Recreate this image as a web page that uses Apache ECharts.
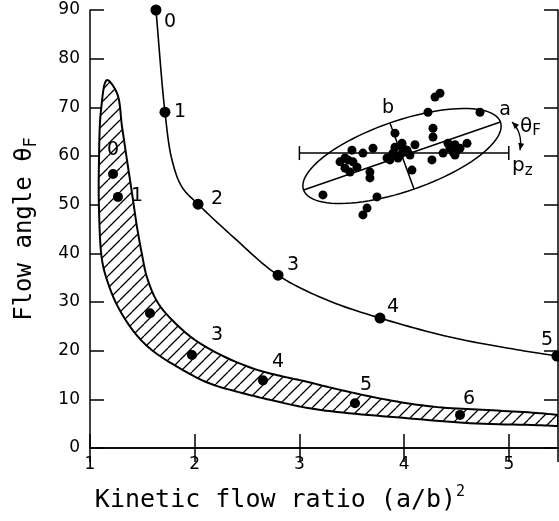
<!DOCTYPE html>
<html><head><meta charset="utf-8">
<script src="https://cdn.jsdelivr.net/npm/echarts@6/dist/echarts.min.js"></script>
<style>html,body{margin:0;padding:0;background:#fff}#c{width:559px;height:521px}</style>
</head><body><div id="c"></div>
<script>
// ---- Data ----
// upper curve (traced)
const upperCurveX = [1.630, 1.716, 1.783, 1.879, 2.032, 2.366, 2.796, 3.264, 3.770, 4.438, 5.078, 5.460];
const upperCurveY = [90.0, 69.0, 59.2, 53.6, 50.1, 43.4, 35.5, 30.4, 26.7, 22.8, 20.2, 18.9];
// upper labelled points
const upperPtX = [1.630, 1.716, 2.032, 2.796, 3.770, 5.460];
const upperPtY = [90.0, 69.0, 50.1, 35.5, 26.7, 18.9];
const upperPtLabels = ['0', '1', '2', '3', '4', '5'];
// band labelled points
const bandPtX = [1.220, 1.267, 1.573, 1.974, 2.652, 3.531, 4.534];
const bandPtY = [56.3, 51.6, 27.7, 19.1, 13.9, 9.2, 6.8];
const bandPtLabels = ['0', '1', '', '3', '4', '5', '6'];
// hatched band: tip, outer (upper/right) edge after tip, inner (lower/left) edge after tip
const bandTip = [1.162, 75.6];
const bandOuterX = [1.258, 1.306, 1.353, 1.401, 1.449, 1.497, 1.544, 1.649, 1.812, 2.003, 2.289, 2.605, 2.862, 3.034, 3.359, 3.837, 4.314, 4.792, 5.269, 5.470];
const bandOuterY = [72.9, 66.0, 59.2, 52.4, 45.4, 39.7, 35.1, 29.8, 25.7, 22.2, 18.7, 16.0, 14.6, 13.8, 12.1, 9.9, 8.4, 7.8, 7.2, 6.8];
const bandInnerX = [1.105, 1.086, 1.086, 1.115, 1.172, 1.267, 1.430, 1.592, 1.840, 2.127, 2.452, 2.719, 3.034, 3.359, 3.989, 4.629, 5.269, 5.470];
const bandInnerY = [69.4, 59.2, 48.9, 38.6, 33.9, 29.0, 23.6, 20.1, 16.6, 13.4, 11.3, 9.9, 8.4, 7.4, 6.2, 5.1, 4.7, 4.5];
// inset scatter cluster
const clusterX = [4.343, 4.295, 4.228, 4.725, 4.276, 4.276, 4.104, 4.028, 4.419, 4.486, 4.601, 4.467, 4.372, 4.486, 4.438, 4.266, 4.075, 3.913, 3.703, 3.607, 3.502, 3.464, 3.388, 3.512, 3.436, 3.550, 3.483, 3.674, 3.674, 3.837, 3.894, 3.913, 3.980, 4.009, 3.942, 3.225, 3.741, 3.646, 3.607, 4.056, 3.865, 3.990, 4.505, 3.436, 3.961, 4.534];
const clusterY = [72.9, 72.1, 69.0, 69.0, 65.7, 63.9, 62.3, 61.2, 62.6, 62.3, 62.6, 60.8, 60.6, 60.2, 61.6, 59.2, 57.1, 64.7, 61.6, 60.6, 61.2, 59.2, 58.8, 58.8, 57.5, 57.7, 56.7, 56.7, 55.5, 59.6, 60.6, 61.8, 62.6, 60.8, 59.6, 52.0, 51.6, 49.3, 47.9, 60.2, 59.2, 61.6, 61.2, 59.6, 60.2, 61.6];
// inset ellipse (center, end of semi-major, end of semi-minor)
const ellipseCenter = [3.98, 60.0];
const ellipseMajorEnd = [4.92, 67.0];
const ellipseMinorEnd = [3.865, 66.8];
// p_z reference line
const pzLineX = [3.0, 5.0];
const pzLineY = 60.6;
// inset annotations
const insetTextX = [4.964, 3.846, 5.107, 5.031];
const insetTextY = [69.4, 69.9, 66.0, 57.9];
const insetTexts = ['a', 'b', 'θ{sub|F}', 'p{sub|z}'];
const arrowStart = [5.031, 67.0], arrowCtrl = [5.136, 64.7], arrowEnd = [5.107, 61.2];

// ---- styles ----
const upperLabelOffsets = [[14, 12], [15, 0], [19, -5], [15, -10], [13, -11], [-10, -16]];
const bandLabelOffsets = [[0, -24], [19, -1], [0, 0], [25, -20], [15, -18], [11, -18], [9, -16]];
const tickFont = 'DejaVu Sans';
const nameFont = 'DejaVu Sans Mono';

function makeHatch() {
  const s = 12, c = document.createElement('canvas');
  c.width = s; c.height = s;
  const g = c.getContext('2d');
  g.fillStyle = '#fff'; g.fillRect(0, 0, s, s);
  g.strokeStyle = '#000'; g.lineWidth = 1.3;
  g.beginPath();
  for (const k of [-s, 0, s]) { g.moveTo(k, s); g.lineTo(k + s, 0); }
  g.stroke();
  return c;
}
const hatch = makeHatch();

// centripetal Catmull-Rom through pixel points (rendering of a traced curve)
function spline(P, n) {
  const L = P.length, out = [];
  const ext = [[2 * P[0][0] - P[1][0], 2 * P[0][1] - P[1][1]]].concat(P,
    [[2 * P[L - 1][0] - P[L - 2][0], 2 * P[L - 1][1] - P[L - 2][1]]]);
  const d = (a, b) => Math.max(Math.pow(Math.hypot(b[0] - a[0], b[1] - a[1]), 0.5), 1e-4);
  for (let i = 1; i < ext.length - 2; i++) {
    const p0 = ext[i - 1], p1 = ext[i], p2 = ext[i + 1], p3 = ext[i + 2];
    const t0 = 0, t1 = d(p0, p1), t2 = t1 + d(p1, p2), t3 = t2 + d(p2, p3);
    for (let k = 0; k < n; k++) {
      const t = t1 + (t2 - t1) * k / n;
      const lp = (a, b, ta, tb) => [((tb - t) * a[0] + (t - ta) * b[0]) / (tb - ta), ((tb - t) * a[1] + (t - ta) * b[1]) / (tb - ta)];
      const A1 = lp(p0, p1, t0, t1), A2 = lp(p1, p2, t1, t2), A3 = lp(p2, p3, t2, t3);
      const B1 = lp(A1, A2, t0, t2), B2 = lp(A2, A3, t1, t3);
      out.push(lp(B1, B2, t1, t2));
    }
  }
  out.push(P[L - 1]);
  return out;
}

const axisCommon = {
  axisLine: { lineStyle: { color: '#000', width: 1.5 } },
  axisTick: { inside: true, length: 14, lineStyle: { color: '#000', width: 1.5 } },
  splitLine: { show: false }
};

const chart = echarts.init(document.getElementById('c'), null, { renderer: 'canvas' });
const option = {
  animation: false,
  backgroundColor: '#fff',
  grid: { left: 90, top: 10, width: 468, height: 438 },
  xAxis: [
    Object.assign({
      type: 'value', min: 1, max: 5.47, interval: 1, position: 'bottom',
      axisLabel: { color: '#000', fontSize: 17, fontFamily: tickFont, margin: 8, showMaxLabel: false },
      name: 'Kinetic flow ratio (a/b){sup|2}', nameLocation: 'middle', nameGap: 37,
      nameTextStyle: {
        color: '#000', fontFamily: nameFont, fontSize: 25, lineHeight: 30, padding: [0, 88, 0, 0],
        rich: { sup: { fontFamily: nameFont, fontSize: 15, lineHeight: 15, verticalAlign: 'top' } }
      }
    }, axisCommon),
    Object.assign({
      type: 'value', min: 1, max: 5.47, interval: 1, position: 'top',
      axisLabel: { show: false }
    }, axisCommon)
  ],
  yAxis: [
    Object.assign({
      type: 'value', min: 0, max: 90, interval: 10, position: 'left',
      axisLabel: { color: '#000', fontSize: 17, fontFamily: tickFont, margin: 10 },
      name: 'Flow angle θ{sub|F}', nameLocation: 'middle', nameGap: 50,
      nameTextStyle: {
        color: '#000', fontFamily: nameFont, fontSize: 24, lineHeight: 30,
        rich: { sub: { fontFamily: nameFont, fontSize: 17, lineHeight: 17, verticalAlign: 'bottom' } }
      }
    }, axisCommon),
    Object.assign({
      type: 'value', min: 0, max: 90, interval: 10, position: 'right',
      axisLabel: { show: false }
    }, axisCommon)
  ],
  series: [
    {
      type: 'custom', clip: true, z: 1, silent: true,
      data: [[3, 30]],
      renderItem: function (params, api) {
        const seq = [];
        for (let i = bandInnerX.length - 1; i >= 0; i--) seq.push(api.coord([bandInnerX[i], bandInnerY[i]]));
        seq.push(api.coord(bandTip));
        for (let i = 0; i < bandOuterX.length; i++) seq.push(api.coord([bandOuterX[i], bandOuterY[i]]));
        return {
          type: 'polygon',
          shape: { points: spline(seq, 10) },
          style: { fill: { image: hatch, repeat: 'repeat' }, stroke: '#000', lineWidth: 2 }
        };
      }
    },
    {
      type: 'custom', clip: true, z: 2, silent: true,
      data: [[3, 30]],
      renderItem: function (params, api) {
        const pts = upperCurveX.map((x, i) => api.coord([x, upperCurveY[i]]));
        return { type: 'polyline', shape: { points: spline(pts, 12) }, style: { stroke: '#000', lineWidth: 1.6, fill: null } };
      }
    },
    {
      type: 'scatter', z: 4, symbolSize: 11, itemStyle: { color: '#000', opacity: 1 }, clip: false,
      data: upperPtX.map((x, i) => ({
        value: [x, upperPtY[i]],
        label: { show: true, position: 'inside', offset: upperLabelOffsets[i], formatter: upperPtLabels[i],
          color: '#000', fontSize: 19, fontFamily: tickFont }
      }))
    },
    {
      type: 'scatter', z: 4, symbolSize: 10, itemStyle: { color: '#000', opacity: 1 },
      data: bandPtX.map((x, i) => ({
        value: [x, bandPtY[i]],
        label: { show: bandPtLabels[i] !== '', position: 'inside', offset: bandLabelOffsets[i], formatter: bandPtLabels[i],
          color: '#000', fontSize: 19, fontFamily: tickFont }
      }))
    },
    {
      type: 'custom', z: 3, silent: true, clip: false,
      data: [[4, 60]],
      renderItem: function (params, api) {
        const c = api.coord(ellipseCenter);
        const A = api.coord(ellipseMajorEnd), B = api.coord(ellipseMinorEnd);
        const u = [A[0] - c[0], A[1] - c[1]], v = [B[0] - c[0], B[1] - c[1]];
        const ell = [];
        for (let k = 0; k < 96; k++) {
          const t = k / 96 * Math.PI * 2;
          ell.push([c[0] + u[0] * Math.cos(t) + v[0] * Math.sin(t), c[1] + u[1] * Math.cos(t) + v[1] * Math.sin(t)]);
        }
        const ls = { stroke: '#000', lineWidth: 1.5, fill: null };
        const p1 = api.coord([pzLineX[0], pzLineY]), p2 = api.coord([pzLineX[1], pzLineY]);
        const s0 = api.coord(arrowStart), s1 = api.coord(arrowCtrl), s2 = api.coord(arrowEnd);
        function head(tip, from) {
          const dx = tip[0] - from[0], dy = tip[1] - from[1], L = Math.hypot(dx, dy);
          const ux = dx / L, uy = dy / L, len = 7, w = 3;
          return { type: 'polygon', shape: { points: [tip, [tip[0] - ux * len - uy * w, tip[1] - uy * len + ux * w], [tip[0] - ux * len + uy * w, tip[1] - uy * len - ux * w]] }, style: { fill: '#000' } };
        }
        const children = [
          { type: 'polygon', shape: { points: ell }, style: ls },
          { type: 'line', shape: { x1: c[0] - u[0], y1: c[1] - u[1], x2: c[0] + u[0], y2: c[1] + u[1] }, style: ls },
          { type: 'line', shape: { x1: c[0] - v[0], y1: c[1] - v[1], x2: c[0] + v[0], y2: c[1] + v[1] }, style: ls },
          { type: 'line', shape: { x1: p1[0], y1: p1[1], x2: p2[0], y2: p2[1] }, style: ls },
          { type: 'line', shape: { x1: p1[0], y1: p1[1] - 7, x2: p1[0], y2: p1[1] + 7 }, style: ls },
          { type: 'line', shape: { x1: p2[0], y1: p2[1] - 7, x2: p2[0], y2: p2[1] + 7 }, style: ls },
          { type: 'bezierCurve', shape: { x1: s0[0], y1: s0[1], cpx1: s1[0], cpy1: s1[1], x2: s2[0], y2: s2[1] }, style: { stroke: '#000', lineWidth: 1.3, fill: null } },
          head(s0, s1), head(s2, s1)
        ];
        for (let i = 0; i < insetTexts.length; i++) {
          const p = api.coord([insetTextX[i], insetTextY[i]]);
          children.push({
            type: 'text', x: p[0], y: p[1],
            style: {
              text: insetTexts[i], fill: '#000', fontFamily: tickFont, fontSize: i < 2 ? 19 : 20,
              align: i < 2 ? 'center' : 'left', verticalAlign: 'middle', lineHeight: 24,
              rich: { sub: { fontFamily: tickFont, fontSize: 15, lineHeight: 14, verticalAlign: 'bottom' } }
            }
          });
        }
        return { type: 'group', children: children };
      }
    },
    {
      type: 'scatter', z: 4, symbolSize: 9, itemStyle: { color: '#000', opacity: 1 },
      data: clusterX.map((x, i) => [x, clusterY[i]])
    }
  ]
};
chart.setOption(option);
</script>
</body></html>
